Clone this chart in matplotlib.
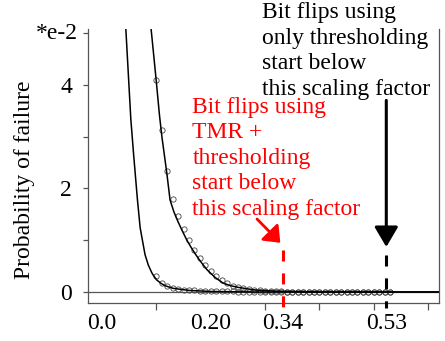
import matplotlib
matplotlib.use("Agg")
import matplotlib.pyplot as plt

plt.rcParams['font.family'] = ['Liberation Serif', 'DejaVu Serif']
plt.rcParams['font.size'] = 17

# scaling factor sampled in steps of 0.01 (circles)
x_pts = [0.10, 0.11, 0.12, 0.13, 0.14, 0.15, 0.16, 0.17, 0.18, 0.19,
         0.20, 0.21, 0.22, 0.23, 0.24, 0.25, 0.26, 0.27, 0.28, 0.29,
         0.30, 0.31, 0.32, 0.33, 0.34, 0.35, 0.36, 0.37, 0.38, 0.39,
         0.40, 0.41, 0.42, 0.43, 0.44, 0.45, 0.46, 0.47, 0.48, 0.49,
         0.50, 0.51, 0.52, 0.53]

# probability of failure (*e-2), TMR + thresholding
tmr_pts = [0.31, 0.18, 0.12, 0.08, 0.06, 0.045, 0.035, 0.03, 0.02, 0.02,
           0.015, 0.01, 0.01, 0.01, 0.01, 0.005, 0.005, 0.0, 0.0, 0.0,
           0.0, 0.0, 0.0, 0.0, 0.0, 0.0, 0.0, 0.0, 0.0, 0.0,
           0.0, 0.0, 0.0, 0.0, 0.0, 0.0, 0.0, 0.0, 0.0, 0.0,
           0.0, 0.0, 0.0, 0.0]

# probability of failure (*e-2), only thresholding
thr_pts = [4.10, 3.12, 2.34, 1.79, 1.46, 1.21, 1.00, 0.81, 0.65, 0.52,
           0.41, 0.31, 0.23, 0.17, 0.12, 0.09, 0.07, 0.05, 0.04, 0.03,
           0.02, 0.02, 0.01, 0.01, 0.0, 0.0, 0.0, 0.0, 0.0, 0.0,
           0.0, 0.0, 0.0, 0.0, 0.0, 0.0, 0.0, 0.0, 0.0, 0.0,
           0.0, 0.0, 0.0, 0.0]

# fitted curves
tmr_fit_x = [0.043, 0.0528, 0.058, 0.065, 0.070, 0.075, 0.079, 0.085,
             0.0915, 0.095, 0.1007, 0.108, 0.116, 0.131, 0.16, 0.20, 0.28, 0.62]
tmr_fit_y = [5.2, 3.34, 2.65, 1.78, 1.24, 0.95, 0.72, 0.52,
             0.37, 0.31, 0.23, 0.17, 0.12, 0.07, 0.03, 0.01, 0.0, 0.0]
thr_fit_x = [0.089, 0.0994, 0.1055, 0.110, 0.119, 0.125, 0.132, 0.14,
             0.148, 0.156, 0.165, 0.175, 0.184, 0.193, 0.208, 0.223,
             0.237, 0.25, 0.28, 0.32, 0.40, 0.62]
thr_fit_y = [5.2, 4.10, 3.42, 3.0, 2.3, 1.78, 1.55, 1.35,
             1.17, 1.0, 0.84, 0.68, 0.55, 0.43, 0.28, 0.17,
             0.12, 0.09, 0.04, 0.015, 0.0, 0.0]

# marked scaling factors
tmr_limit = 0.333
thr_limit = 0.523

xtick_pos = [0.0, 0.2, tmr_limit, thr_limit]
xtick_lab = ['0.0', '0.20', '0.34', '0.53']
xminor = [0.0, 0.1, 0.2, 0.3, 0.4, 0.5, 0.6]

fig = plt.figure(figsize=(4.45, 3.41), dpi=100)
ax = fig.add_axes([0.198, 0.1114, 0.7885, 0.8036])

grey = '#555555'
ax.axhline(0, color=grey, lw=0.9, zorder=1)
ax.plot(tmr_fit_x, tmr_fit_y, color='black', lw=1.1, zorder=3)
ax.plot(thr_fit_x, thr_fit_y, color='black', lw=1.1, zorder=3)
ax.plot(x_pts, tmr_pts, 'o', ms=3.8, mfc='none', mec='#444444', mew=0.6, zorder=2)
ax.plot(x_pts, thr_pts, 'o', ms=3.8, mfc='none', mec='#444444', mew=0.6, zorder=2)

ax.set_xlim(-0.0258, 0.620)
ax.set_ylim(-0.213, 5.08)

# dashed markers below the arrows
ax.plot([tmr_limit, tmr_limit], [0.81, -0.31], color='red', lw=2.2,
        ls=(0, (3.6, 3.9)), clip_on=False, zorder=4)
ax.plot([thr_limit, thr_limit], [0.72, -0.31], color='black', lw=2.2,
        ls=(0, (3.6, 3.9)), clip_on=False, zorder=4)

ax.annotate('', xy=(thr_limit, 0.87), xytext=(thr_limit, 3.7),
            arrowprops=dict(arrowstyle='-|>,head_width=0.36,head_length=0.61',
                            mutation_scale=20, lw=2.2, color='black',
                            shrinkA=0, shrinkB=0), annotation_clip=False)
ax.annotate('', xy=(0.328, 0.95), xytext=(0.285, 1.41),
            arrowprops=dict(arrowstyle='-|>,head_width=0.36,head_length=0.45',
                            mutation_scale=20, lw=2.0, color='red',
                            shrinkA=0, shrinkB=0), annotation_clip=False)

# va='baseline' puts the last line's baseline at y
ax.text(0.294, 3.81, 'Bit flips using\nonly thresholding\nstart below\nthis scaling factor',
        color='black', ha='left', va='baseline', linespacing=1.28, clip_on=False)
ax.text(0.166, 1.49, 'Bit flips using\nTMR +\nthresholding\nstart below\nthis scaling factor',
        color='red', ha='left', va='baseline', linespacing=1.28, clip_on=False)

ax.spines['top'].set_visible(False)
for side in ['left', 'right', 'bottom']:
    ax.spines[side].set_color(grey)
    ax.spines[side].set_linewidth(0.9)

ax.set_xticks(xtick_pos)
ax.set_xticklabels(xtick_lab)
ax.set_xticks(xminor, minor=True)
ax.tick_params(axis='x', which='major', length=0, pad=7)
ax.tick_params(axis='x', which='minor', length=5, width=0.9, color=grey)

ax.set_yticks([0, 2, 4])
ax.set_yticklabels(['0', '2', '4'])
ax.set_yticks([1, 3, 5], minor=True)
ax.tick_params(axis='y', which='both', length=3.6, width=0.9, color=grey, pad=8)
ax.text(-0.028, 5.0, '*e-2', transform=ax.get_yaxis_transform(),
        ha='right', va='center')

ax.set_ylabel('Probability of failure')
ax.yaxis.set_label_coords(-0.151, 0.449)

fig.savefig('out.png', dpi=100)
